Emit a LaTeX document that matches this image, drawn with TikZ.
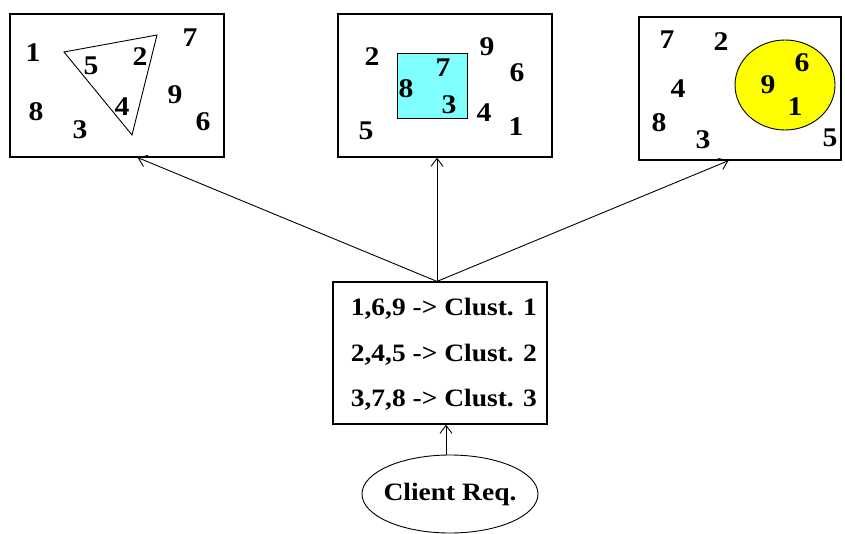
\documentclass[tikz,border=0pt]{standalone}
\usepackage{fontspec}
\setmainfont[FakeStretch=1.1]{Liberation Serif}
\usetikzlibrary{shapes.geometric, arrows.meta, positioning}

\definecolor{clustcyan}{RGB}{128,255,255}
\definecolor{clustyellow}{RGB}{255,255,0}

\begin{document}
\begin{tikzpicture}[
    x=1pt, y=-1pt,
    cluster/.style={draw, line width=1.2pt, minimum height=143pt, inner sep=0pt},
    item/.style={font=\fontsize{27}{27}\selectfont\bfseries, inner sep=0pt},
    rule/.style={font=\fontsize{25}{25}\selectfont\bfseries, inner sep=0pt, anchor=east},
    arrow/.style={-{Straight Barb[length=8pt, width=12pt]}, line width=0.9pt}
]

\useasboundingbox (0,0) rectangle (845,534);

% Cluster 1 - triangle groups 2,4,5
\node[cluster, minimum width=214pt] (box1) at (117,85.5) {};
\draw[line width=0.9pt] (64,52) -- (157,35) -- (132,135) -- cycle;
\node[item] (a1) at (33,53) {1};
\node[item] (a5) at (91,66) {5};
\node[item] (a2) at (140,57) {2};
\node[item] (a7) at (190,38) {7};
\node[item] (a9) at (175,95) {9};
\node[item] (a4) at (122,107) {4};
\node[item] (a8) at (36,112) {8};
\node[item] (a3) at (80,130) {3};
\node[item] (a6) at (203,122) {6};

% Cluster 2 - square groups 3,7,8
\node[cluster, minimum width=214pt] (box2) at (445,85.5) {};
\draw[line width=0.9pt, fill=clustcyan] (397,53) rectangle (467,118);
\node[item] (b2) at (372,57) {2};
\node[item] (b9) at (487,47) {9};
\node[item] (b6) at (517,73) {6};
\node[item] (b7) at (443,68) {7};
\node[item] (b8) at (406,89) {8};
\node[item] (b3) at (449,105) {3};
\node[item] (b4) at (484,113) {4};
\node[item] (b5) at (366,131) {5};
\node[item] (b1) at (516,127) {1};

% Cluster 3 - circle groups 1,6,9
\node[cluster, minimum width=202pt] (box3) at (740,88.5) {};
\draw[line width=0.9pt, fill=clustyellow] (785,85) ellipse [x radius=50, y radius=45];
\node[item] (c7) at (667,40) {7};
\node[item] (c2) at (721,42) {2};
\node[item] (c4) at (678,89) {4};
\node[item] (c8) at (659,123) {8};
\node[item] (c3) at (703,140) {3};
\node[item] (c5) at (830,138) {5};
\node[item] (c9) at (768,85) {9};
\node[item] (c6) at (802,63) {6};
\node[item] (c1) at (795,107) {1};

% Mapping table
\node[draw, line width=1.2pt, minimum width=214pt, minimum height=142pt] (map) at (440,353) {};
\node[rule] (r1) at (537,309) {1,6,9 -> Clust. 1};
\node[rule] (r2) at (537,355) {2,4,5 -> Clust. 2};
\node[rule] (r3) at (537,400) {3,7,8 -> Clust. 3};

% Client request
\node[ellipse, draw, line width=0.9pt, minimum width=176pt, minimum height=78pt,
      inner xsep=-14pt, inner ysep=0pt,
      font=\fontsize{25}{25}\selectfont\bfseries] (client) at (450,494) {Client Req.};

\draw[arrow] ([xshift=-3pt]map.north) -- (box1.-74);
\draw[arrow] ([xshift=-3pt]map.north) -- ([xshift=-3pt]map.north |- box2.south);
\draw[arrow] ([xshift=-3pt]map.north) -- (box3.-99);
\draw[arrow] ([xshift=-4pt]client.north) -- ([xshift=-4pt]client.north |- map.south);

\end{tikzpicture}
\end{document}
